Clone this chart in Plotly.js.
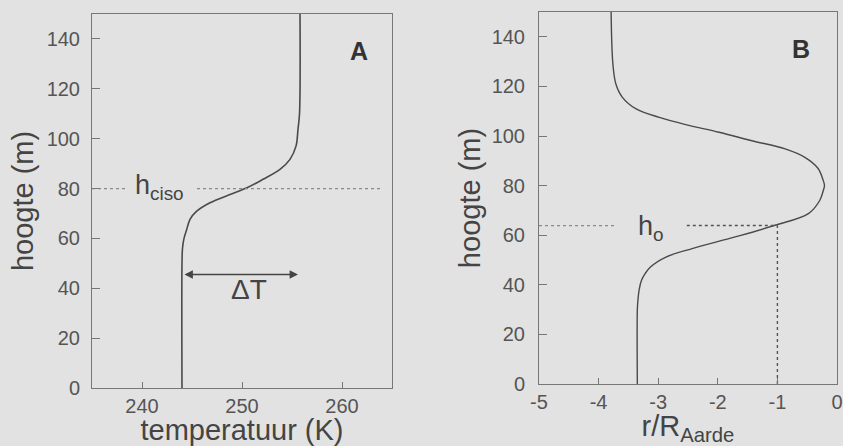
<!DOCTYPE html>
<html>
<head>
<meta charset="utf-8">
<script src="https://cdn.plot.ly/plotly-3.0.1.min.js"></script>
<style>html,body{margin:0;padding:0;background:#e2e2e2;}#chart{width:843px;height:446px;}</style>
</head>
<body>
<div id="chart"></div>
<script>
// Panel A: temperature profile
const heightA = [0, 50, 56, 60, 63.6, 67.6, 70.9, 74.3, 77.6, 80.3, 83.7, 87.7, 91.7, 97, 103.8, 110, 150];
const tempA   = [244, 244, 244.05, 244.2, 244.47, 244.8, 245.47, 246.8, 248.8, 250.5, 252.1, 253.8, 254.8, 255.4, 255.6, 255.75, 255.8];
const hciso = 80;
const deltaTLevel = 45.5;
const deltaTRange = [244.1, 255.6];

// Panel B: r / R_Aarde profile
const heightB = [0, 30, 33.8, 38, 41.8, 44.5, 47.2, 51.2, 54.6, 59.3, 64, 68.7, 74, 78, 80, 82, 87, 91.4, 94.8, 98.1, 101.5, 104.6, 107.5, 110.9, 115.6, 121, 129, 150];
const ratioB  = [-3.35, -3.35, -3.34, -3.32, -3.28, -3.22, -3.13, -2.87, -2.43, -1.71, -1.04, -0.48, -0.29, -0.23, -0.21, -0.23, -0.32, -0.54, -0.87, -1.43, -1.98, -2.54, -2.98, -3.37, -3.60, -3.71, -3.76, -3.79];
const hO = 63.9;
const rEarth = -1;

const tickA = [240, 250, 260];
const tickB = [-5, -4, -3, -2, -1, 0];
const tickBText = ['-5', '-4', '-3', '-2', '-1', '0'];
const tickH = [0, 20, 40, 60, 80, 100, 120, 140];

const FONT = 'Liberation Sans, Arial, Helvetica, sans-serif';
const CURVE = '#4a4a4a';
const DOT = '#8a8a8a';

const traces = [
  {x: tempA, y: heightA, xaxis: 'x', yaxis: 'y', mode: 'lines', line: {color: CURVE, width: 1.6, shape: 'spline', smoothing: 1}, hoverinfo: 'skip'},
  {x: [235, 238.5], y: [hciso, hciso], xaxis: 'x', yaxis: 'y', mode: 'lines', line: {color: DOT, width: 1.2, dash: 'dot'}},
  {x: [245.5, 263.8], y: [hciso, hciso], xaxis: 'x', yaxis: 'y', mode: 'lines', line: {color: DOT, width: 1.2, dash: 'dot'}},
  {x: ratioB, y: heightB, xaxis: 'x2', yaxis: 'y2', mode: 'lines', line: {color: CURVE, width: 1.4, shape: 'spline', smoothing: 1}, hoverinfo: 'skip'},
  {x: [-5, -3.7], y: [hO, hO], xaxis: 'x2', yaxis: 'y2', mode: 'lines', line: {color: DOT, width: 1.2, dash: 'dot'}},
  {x: [-2.52, rEarth], y: [hO, hO], xaxis: 'x2', yaxis: 'y2', mode: 'lines', line: {color: '#555', width: 1.4, dash: 'dot'}},
  {x: [rEarth, rEarth], y: [0, hO], xaxis: 'x2', yaxis: 'y2', mode: 'lines', line: {color: '#555', width: 1.4, dash: 'dot'}}
];

const axisCommon = {
  showline: true, mirror: true, linecolor: '#777', linewidth: 1,
  ticks: 'inside', tickcolor: '#777', tickwidth: 1,
  showgrid: false, zeroline: false, fixedrange: true,
  tickfont: {family: FONT, size: 20, color: '#555'}
};

const layout = {
  width: 843, height: 446,
  margin: {l: 0, r: 0, t: 0, b: 0},
  paper_bgcolor: '#e2e2e2', plot_bgcolor: '#e2e2e2',
  showlegend: false,
  font: {family: FONT, color: '#444'},
  xaxis: Object.assign({}, axisCommon, {
    domain: [92/843, 392/843], range: [235, 265], tickvals: tickA, ticklen: 6, anchor: 'y',
    ticklabelstandoff: 0,
    title: {text: 'temperatuur (K)', font: {family: FONT, size: 29, color: '#444'}, standoff: 4}
  }),
  yaxis: Object.assign({}, axisCommon, {
    domain: [1 - 388/446, 1 - 14/446], range: [0, 150], tickvals: tickH, ticklen: 8, anchor: 'x',
    ticklabelstandoff: 7,
    title: {text: 'hoogte (m)', font: {family: FONT, size: 29, color: '#444'}, standoff: 4}
  }),
  xaxis2: Object.assign({}, axisCommon, {
    domain: [539/843, 837/843], range: [-5, 0], tickvals: tickB, ticktext: tickBText, ticklen: 6, anchor: 'y2',
    ticklabelstandoff: 0,
    title: {text: 'r/R<sub>Aarde</sub>', font: {family: FONT, size: 29, color: '#444'}, standoff: 2}
  }),
  yaxis2: Object.assign({}, axisCommon, {
    domain: [1 - 384/446, 1 - 12/446], range: [0, 150], tickvals: tickH, ticklen: 8, anchor: 'x2',
    ticklabelstandoff: 9,
    title: {text: 'hoogte (m)', font: {family: FONT, size: 29, color: '#444'}, standoff: 2}
  }),
  annotations: [
    {xref: 'x', yref: 'y', x: 239.1, y: 80.5, xanchor: 'left', yanchor: 'middle', showarrow: false,
     text: 'h<sub>ciso</sub>', font: {family: FONT, size: 27, color: '#444'}},
    {xref: 'x', yref: 'y', x: 250.7, y: 39.5, xanchor: 'center', yanchor: 'middle', showarrow: false,
     text: 'ΔT', font: {family: FONT, size: 28, color: '#444'}},
    {xref: 'x', yref: 'y', axref: 'x', ayref: 'y', x: deltaTRange[1], y: deltaTLevel, ax: deltaTRange[0], ay: deltaTLevel,
     text: '', showarrow: true, arrowside: 'end+start', arrowhead: 2, arrowsize: 1.2, arrowwidth: 1.4, arrowcolor: '#444'},
    {xref: 'x', yref: 'y', x: 261.7, y: 135, xanchor: 'center', yanchor: 'middle', showarrow: false,
     text: '<b>A</b>', font: {family: FONT, size: 25, color: '#333'}},
    {xref: 'x2', yref: 'y2', x: -3.12, y: 63, xanchor: 'center', yanchor: 'middle', showarrow: false,
     text: 'h<sub>o</sub>', font: {family: FONT, size: 27, color: '#444'}},
    {xref: 'x2', yref: 'y2', x: -0.6, y: 135, xanchor: 'center', yanchor: 'middle', showarrow: false,
     text: '<b>B</b>', font: {family: FONT, size: 25, color: '#333'}}
  ]
};

Plotly.newPlot('chart', traces, layout, {displayModeBar: false, staticPlot: true});
</script>
</body>
</html>
